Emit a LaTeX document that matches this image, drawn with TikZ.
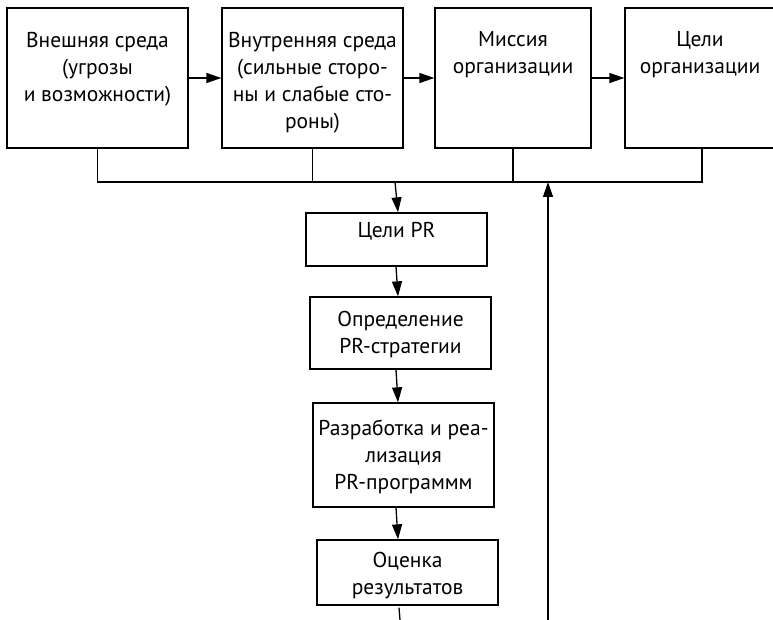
\documentclass[tikz,border=0pt]{standalone}
\usepackage{fontspec}
\setmainfont{PT Sans}
\usetikzlibrary{arrows.meta,calc}
\begin{document}
\begin{tikzpicture}[x=1pt,y=-1pt,
  box/.style={draw,line width=1.3pt,inner sep=0pt},
  lbl/.style={align=center,anchor=north,inner sep=0pt,font=\fontsize{21.5}{27}\selectfont},
  arr/.style={line width=1.3pt,-{Triangle[length=15pt,width=10pt]}},
  ln/.style={line width=1.3pt}]
\useasboundingbox (0,0) rectangle (773,620);
\clip (0,0) rectangle (773,620);
% top row
\node[box,minimum width=181pt,minimum height=140pt] (b1) at (97.5,78) {};
\node[box,minimum width=181pt,minimum height=140pt] (b2) at (312.5,78) {};
\node[box,minimum width=156pt,minimum height=140pt] (b3) at (513,78) {};
\node[box,minimum width=154pt,minimum height=140pt] (b4) at (702,78) {};
\node[lbl] (t1) at (97.5,32) {Внешняя среда\\(угрозы\\и возможности)};
\node[lbl] (t2) at (312.5,32) {Внутренняя среда\\(сильные сторо-\\ны и слабые сто-\\роны)};
\node[lbl] (t3) at (513,31) {Миссия\\организации};
\node[lbl] (t4) at (700,31) {Цели\\организации};
% column
\node[box,minimum width=181pt,minimum height=53pt] (b5) at (396.5,239.5) {};
\node[box,minimum width=181pt,minimum height=72pt] (b6) at (400.5,333) {};
\node[box,minimum width=181pt,minimum height=104pt] (b7) at (403.5,455) {};
\node[box,minimum width=181pt,minimum height=65pt] (b8) at (407.5,572.5) {};
\node[lbl] (t5) at (396.5,222) {Цели PR};
\node[lbl] (t6) at (400.5,311) {Определение\\PR-стратегии};
\node[lbl] (t7) at (403.5,420) {Разработка и реа-\\лизация\\PR-программм};
\node[lbl] (t8) at (407.5,552) {Оценка\\результатов};
% coordinates
\coordinate (bus) at (0,182);
\coordinate (xa) at (396,0);
\coordinate (xb) at (398,0);
\coordinate (busdown) at (395,182);
\coordinate (bot) at (400,620);
\coordinate (upbot) at (548,620);
\coordinate (uptop) at (548,182);
% horizontal arrows
\draw[arr] (b1.east) -- (b2.west);
\draw[arr] (b2.east) -- (b3.west);
\draw[arr] (b3.east) -- (b4.west);
% bus
\draw[ln] (b1.south) -- (b1.south |- bus) -- (b4.south |- bus) -- (b4.south);
\draw[ln] (b2.south) -- (b2.south |- bus);
\draw[ln] (b3.south) -- (b3.south |- bus);
% down chain
\draw[arr] (busdown) -- (b5.north -| xb);
\draw[arr] (b5.south -| xa) -- (b6.north -| xb);
\draw[arr] (b6.south -| xa) -- (b7.north -| xb);
\draw[arr] (b7.south -| xa) -- (b8.north -| xb);
\draw[ln] ($(b8.south -| xa)+(3,2)$) -- (bot);
% return
\draw[arr] (upbot) -- (uptop);
\end{tikzpicture}
\end{document}
